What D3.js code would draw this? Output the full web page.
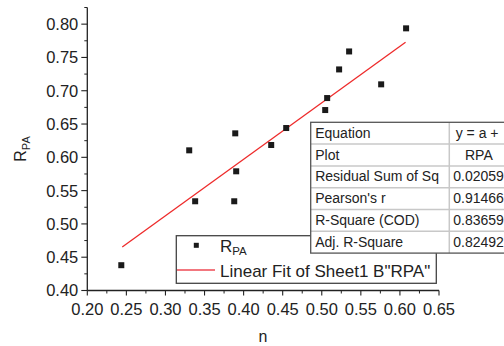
<!DOCTYPE html>
<html>
<head>
<meta charset="utf-8">
<script src="https://cdn.jsdelivr.net/npm/d3@7"></script>
<style>
  body { margin: 0; background: #fff; }
  svg { display: block; font-family: "Liberation Sans", Arial, sans-serif; }
</style>
</head>
<body>
<svg id="chart" width="504" height="346"></svg>
<script>
// data
var nVals   = [0.2435, 0.3304, 0.338, 0.3893, 0.3905, 0.388, 0.4353, 0.4545, 0.5044, 0.5069, 0.5222, 0.535, 0.576, 0.6079];
var rpaVals = [0.438, 0.6105, 0.534, 0.636, 0.579, 0.534, 0.6185, 0.644, 0.671, 0.689, 0.732, 0.759, 0.7096, 0.7937];
// fitted line ends (x, y)
var fitN   = [0.2447, 0.6072];
var fitRpa = [0.4653, 0.7727];

var xTicks = [0.20, 0.25, 0.30, 0.35, 0.40, 0.45, 0.50, 0.55, 0.60, 0.65];
var yTicks = [0.40, 0.45, 0.50, 0.55, 0.60, 0.65, 0.70, 0.75, 0.80];

var tableNames  = ["Equation", "Plot", "Residual Sum of Sq", "Pearson's r", "R-Square (COD)", "Adj. R-Square"];
var tableValues = ["y = a +", "RPA", "0.02059", "0.91466", "0.83659", "0.82492"];

var svg = d3.select("#chart");

var x = d3.scaleLinear().domain([0.2, 0.65]).range([87.3, 439]);
var y = d3.scaleLinear().domain([0.4, 0.825]).range([290.5, 7.5]);

var axisColor = "#222";

// y axis
var yAxis = svg.append("g").attr("transform", "translate(87.3,0)");
yAxis.append("line").attr("y1", y(0.825)).attr("y2", y(0.4))
  .attr("stroke", axisColor).attr("stroke-width", 1.3);
yAxis.selectAll(".major").data(yTicks).enter().append("line")
  .attr("x1", -6).attr("x2", 0)
  .attr("y1", function (d) { return y(d); }).attr("y2", function (d) { return y(d); })
  .attr("stroke", axisColor).attr("stroke-width", 1.1);
yAxis.selectAll(".minor").data(yTicks).enter().append("line")
  .attr("x1", -3).attr("x2", 0)
  .attr("y1", function (d) { return y(d + 0.025); }).attr("y2", function (d) { return y(d + 0.025); })
  .attr("stroke", axisColor).attr("stroke-width", 1);
yAxis.selectAll("text").data(yTicks).enter().append("text")
  .attr("x", -9).attr("y", function (d) { return y(d); })
  .attr("dy", "0.36em").attr("text-anchor", "end")
  .attr("font-size", 16.5).attr("fill", "#222")
  .text(function (d) { return d.toFixed(2); });

// x axis
var xAxis = svg.append("g").attr("transform", "translate(0,290.5)");
xAxis.append("line").attr("x1", x(0.2)).attr("x2", x(0.65))
  .attr("stroke", axisColor).attr("stroke-width", 1.3);
xAxis.selectAll(".major").data(xTicks).enter().append("line")
  .attr("y1", 0).attr("y2", 5)
  .attr("x1", function (d) { return x(d); }).attr("x2", function (d) { return x(d); })
  .attr("stroke", axisColor).attr("stroke-width", 1.1);
xAxis.selectAll(".minor").data(xTicks.slice(0, -1)).enter().append("line")
  .attr("y1", 0).attr("y2", 3)
  .attr("x1", function (d) { return x(d + 0.025); }).attr("x2", function (d) { return x(d + 0.025); })
  .attr("stroke", axisColor).attr("stroke-width", 1);
xAxis.selectAll("text").data(xTicks).enter().append("text")
  .attr("x", function (d) { return x(d); }).attr("y", 24)
  .attr("text-anchor", "middle")
  .attr("font-size", 16.5).attr("fill", "#222")
  .text(function (d) { return d.toFixed(2); });

// axis titles
svg.append("text").attr("x", 263).attr("y", 342)
  .attr("text-anchor", "middle").attr("font-size", 16).attr("fill", "#222").text("n");
var yt = svg.append("text").attr("transform", "translate(26,149) rotate(-90)")
  .attr("text-anchor", "middle").attr("font-size", 16).attr("fill", "#222");
yt.append("tspan").text("R");
yt.append("tspan").attr("font-size", 11).attr("dy", 4).text("PA");

// fit line
svg.append("line")
  .attr("x1", x(fitN[0])).attr("y1", y(fitRpa[0]))
  .attr("x2", x(fitN[1])).attr("y2", y(fitRpa[1]))
  .attr("stroke", "#ee2a2a").attr("stroke-width", 1.3);

// points
var pts = nVals.map(function (d, i) { return [d, rpaVals[i]]; });
svg.selectAll(".pt").data(pts).enter().append("rect")
  .attr("x", function (d) { return x(d[0]) - 3; })
  .attr("y", function (d) { return y(d[1]) - 3; })
  .attr("width", 6).attr("height", 6)
  .attr("fill", "#1a1a1a");

// legend
var lg = svg.append("g");
lg.append("rect").attr("x", 176.3).attr("y", 235.7).attr("width", 260).attr("height", 47.6)
  .attr("fill", "#fff").attr("stroke", "#444").attr("stroke-width", 1.3);
lg.append("rect").attr("x", 193.8).attr("y", 242.8).attr("width", 5).attr("height", 5).attr("fill", "#1a1a1a");
var l1 = lg.append("text").attr("x", 220).attr("y", 252).attr("font-size", 17).attr("fill", "#222");
l1.append("tspan").text("R");
l1.append("tspan").attr("font-size", 11.5).attr("dy", 3).text("PA");
lg.append("line").attr("x1", 177).attr("x2", 215).attr("y1", 270).attr("y2", 270)
  .attr("stroke", "#ee4a55").attr("stroke-width", 1.5);
lg.append("text").attr("x", 220).attr("y", 276.5).attr("font-size", 17).attr("fill", "#222")
  .text('Linear Fit of Sheet1 B"RPA"');

// stats table
var tx = 310.7, ty = 122.3, rowH = 21.8, colX = 449.3, tRight = 510;
var tb = svg.append("g");
tb.append("rect").attr("x", tx).attr("y", ty).attr("width", tRight - tx).attr("height", rowH * tableNames.length)
  .attr("fill", "#fff");
tb.selectAll(".hl").data(d3.range(1, tableNames.length)).enter().append("line")
  .attr("x1", tx).attr("x2", tRight)
  .attr("y1", function (d) { return ty + d * rowH; }).attr("y2", function (d) { return ty + d * rowH; })
  .attr("stroke", "#c8c8c8").attr("stroke-width", 1.5);
tb.append("line").attr("x1", colX).attr("x2", colX).attr("y1", ty).attr("y2", ty + rowH * tableNames.length)
  .attr("stroke", "#c8c8c8").attr("stroke-width", 1.5);
tb.append("rect").attr("x", tx).attr("y", ty).attr("width", tRight - tx).attr("height", rowH * tableNames.length)
  .attr("fill", "none").attr("stroke", "#555").attr("stroke-width", 1.3);
tb.selectAll(".nm").data(tableNames).enter().append("text")
  .attr("x", tx + 4.5).attr("y", function (d, i) { return ty + i * rowH + 15.5; })
  .attr("font-size", 14).attr("fill", "#222")
  .text(function (d) { return d; });
tb.selectAll(".vl").data(tableValues).enter().append("text")
  .attr("x", function (d, i) { return i === 0 ? 455.7 : (i === 1 ? 465 : 453.3); })
  .attr("y", function (d, i) { return ty + i * rowH + 15.5; })
  .attr("font-size", 14).attr("fill", "#222")
  .text(function (d) { return d; });
</script>
</body>
</html>
